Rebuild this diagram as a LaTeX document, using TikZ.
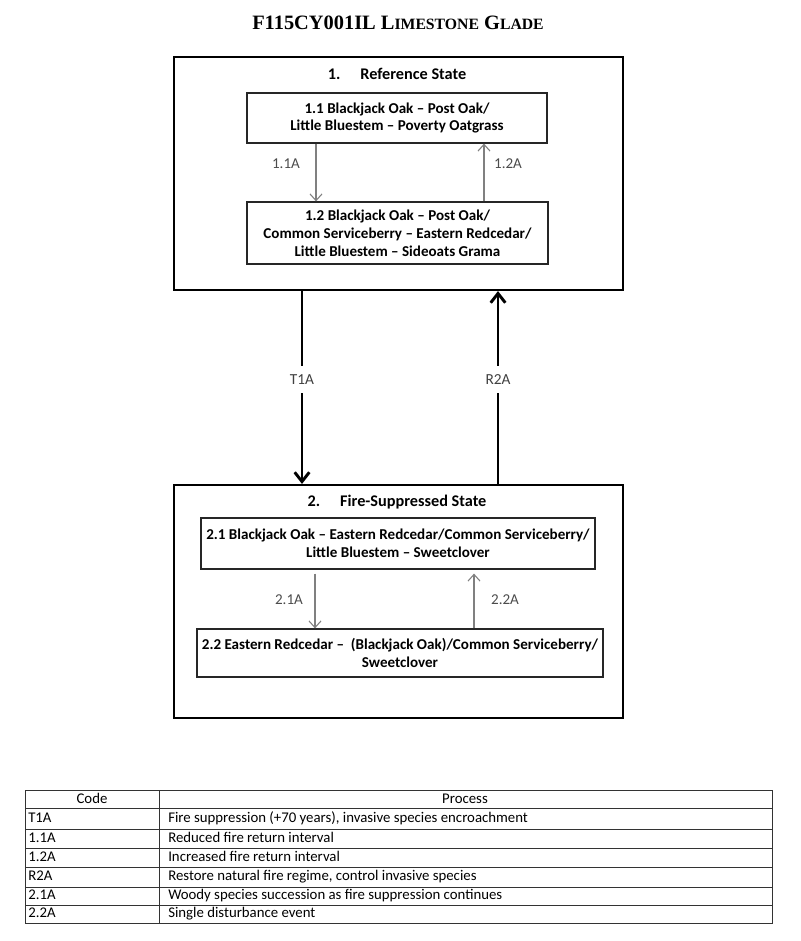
\documentclass[tikz,border=0pt]{standalone}
\usepackage{fontspec}
\setmainfont{Carlito}
\newfontfamily\titlefont{Liberation Serif}
\usetikzlibrary{arrows.meta}
\begin{document}
\begin{tikzpicture}[x=0.75pt,y=-0.75pt,
  outerbox/.style={draw=black, line width=1.6pt, minimum width=336.75pt, minimum height=174.75pt, inner sep=0pt},
  innerbox/.style={draw=black!85, line width=0.9pt, align=center, inner sep=0pt,
    font=\bfseries\fontsize{11.3}{13.4}\selectfont},
  statetitle/.style={font=\bfseries\fontsize{12.2}{14}\selectfont},
  grayarrow/.style={draw=black!50, line width=0.8pt, -{Straight Barb[length=5pt,width=9pt,line width=0.8pt]}},
  grayarrowlab/.style={text=black!70, font=\fontsize{11.3}{13}\selectfont},
  bigarrow/.style={draw=black, line width=2.2pt, -{Straight Barb[length=7pt,width=11pt,line width=2.2pt]}},
  biglab/.style={fill=white, text=black!75, font=\fontsize{11.5}{13}\selectfont, inner xsep=2pt, inner ysep=6.5pt},
  tabtext/.style={font=\fontsize{11.1}{12}\selectfont, inner sep=0pt, text height=7.6pt, text depth=2.2pt},
  tabline/.style={draw=black!80, line width=0.75pt}
]
\useasboundingbox (0,0) rectangle (800,941);
\fill[white] (0,0) rectangle (800,941);

% title
\node (title) at (398,23) {\titlefont\bfseries\fontsize{15.3}{18}\selectfont F115CY001IL L{\fontsize{11.8}{14}\selectfont IMESTONE} G{\fontsize{11.8}{14}\selectfont LADE}};

% state 1
\node[outerbox] (s1) at (398.5,173.5) {};
\node[statetitle] (s1t) at (397,74) {1.\hspace{15pt}Reference State};
\node[innerbox, minimum width=225pt, minimum height=37.5pt] (b11) at (397,118)
  {1.1 Blackjack Oak -- Post Oak/\\Little Bluestem -- Poverty Oatgrass};
\node[innerbox, minimum width=225.75pt, minimum height=46.5pt] (b12) at (397.5,233)
  {1.2 Blackjack Oak -- Post Oak/\\Common Serviceberry -- Eastern Redcedar/\\Little Bluestem -- Sideoats Grama};
\draw[grayarrow] (b11.south -| 316,0) -- (b12.north -| 316,0);
\draw[grayarrow] (b12.north -| 484,0) -- (b11.south -| 484,0);
\node[grayarrowlab] (l11) at (286,164) {1.1A};
\node[grayarrowlab] (l12) at (508,164) {1.2A};

% state 2
\node[outerbox] (s2) at (398.5,601.5) {};
\node[statetitle] (s2t) at (397,502) {2.\hspace{15pt}Fire-Suppressed State};
\node[innerbox, minimum width=295.5pt, minimum height=38.25pt] (b21) at (398,543.5)
  {2.1 Blackjack Oak -- Eastern Redcedar/Common Serviceberry/\\Little Bluestem -- Sweetclover};
\node[innerbox, minimum width=304.5pt, minimum height=36pt] (b22) at (400,653)
  {2.2 Eastern Redcedar --\ \ (Blackjack Oak)/Common Serviceberry/\\Sweetclover};
\draw[grayarrow, shorten <=3pt] (b21.south -| 315,0) -- (b22.north -| 315,0);
\draw[grayarrow, shorten >=3pt] (b22.north -| 474,0) -- (b21.south -| 474,0);
\node[grayarrowlab] (l21) at (289,600) {2.1A};
\node[grayarrowlab] (l22) at (505,600) {2.2A};

% transitions
\draw[bigarrow] (s1.south -| 302,0) -- node[biglab, pos=0.46] {T1A} (s2.north -| 302,0);
\draw[bigarrow] (s2.north -| 498,0) -- node[biglab, pos=0.54] {R2A} (s1.south -| 498,0);

% table
\draw[tabline] (25,790) rectangle (772,923);
\draw[tabline] (159,790) -- (159,923);
\foreach \yy in {808,829,848,867,887,905} { \draw[tabline] (25,\yy) -- (772,\yy); }
\node[tabtext] (hc) at (92,799.5) {Code};
\node[tabtext] (hp) at (465,799.5) {Process};
\node[tabtext, anchor=west] (c1) at (28,818.5) {T1A};
\node[tabtext, anchor=west] (p1) at (168,818.5) {Fire suppression (+70 years), invasive species encroachment};
\node[tabtext, anchor=west] (c2) at (28,838.5) {1.1A};
\node[tabtext, anchor=west] (p2) at (168,838.5) {Reduced fire return interval};
\node[tabtext, anchor=west] (c3) at (28,857.5) {1.2A};
\node[tabtext, anchor=west] (p3) at (168,857.5) {Increased fire return interval};
\node[tabtext, anchor=west] (c4) at (28,877) {R2A};
\node[tabtext, anchor=west] (p4) at (168,877) {Restore natural fire regime, control invasive species};
\node[tabtext, anchor=west] (c5) at (28,896) {2.1A};
\node[tabtext, anchor=west] (p5) at (168,896) {Woody species succession as fire suppression continues};
\node[tabtext, anchor=west] (c6) at (28,914) {2.2A};
\node[tabtext, anchor=west] (p6) at (168,914) {Single disturbance event};
\end{tikzpicture}
\end{document}
